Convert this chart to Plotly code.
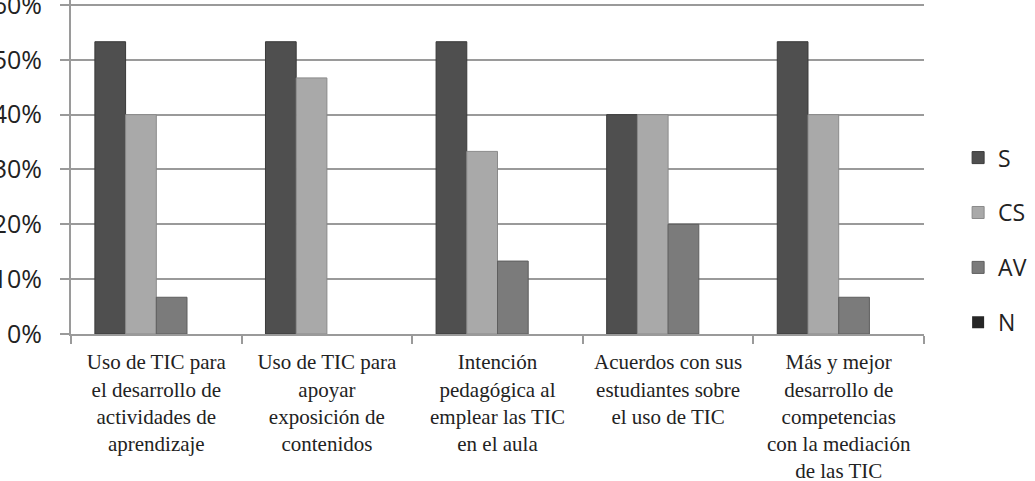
import plotly.graph_objects as go

categories = [
    "Uso de TIC para<br>el desarrollo de<br>actividades de<br>aprendizaje",
    "Uso de TIC para<br>apoyar<br>exposición de<br>contenidos",
    "Intención<br>pedagógica al<br>emplear las TIC<br>en el aula",
    "Acuerdos con sus<br>estudiantes sobre<br>el uso de TIC",
    "Más y mejor<br>desarrollo de<br>competencias<br>con la mediación<br>de las TIC",
]
S = [0.533, 0.533, 0.533, 0.40, 0.533]
CS = [0.40, 0.467, 0.333, 0.40, 0.40]
AV = [0.067, 0.0, 0.133, 0.20, 0.067]
N = [0.0, 0.0, 0.0, 0.0, 0.0]
y_ticks = [0, 0.1, 0.2, 0.3, 0.4, 0.5, 0.6]
y_ticktext = ["0%", "10%", "20%", "30%", "40%", "50%", "60%"]

series = [("S", S, "#4f4f4f", "#3a3a3a"),
          ("CS", CS, "#a9a9a9", "#8a8a8a"),
          ("AV", AV, "#7b7b7b", "#5e5e5e"),
          ("N", N, "#262626", "#111111")]

fig = go.Figure()
for name, vals, col, edge in series:
    fig.add_trace(go.Bar(x=categories, y=vals, name=name, legendgroup=name,
                         marker=dict(color=col,
                                     line=dict(color=edge,
                                               width=[1 if v > 0 else 0 for v in vals]))))

fig.update_layout(
    width=1035, height=481,
    margin=dict(l=71, r=111, t=0, b=147, autoexpand=False),
    paper_bgcolor="white", plot_bgcolor="white",
    barmode="group", bargap=0.28, bargroupgap=0,
    legend=dict(x=1.04, xanchor="left", y=0.281, yanchor="middle",
                font=dict(family="Open Sans", size=23, color="#222"),
                tracegroupgap=22, traceorder="grouped"),
    showlegend=True,
)
fig.update_yaxes(range=[0, 0.6091], tickmode="array", tickvals=y_ticks, ticktext=y_ticktext,
                 automargin=False, ticklabeloverflow="allow",
                 showgrid=True, gridcolor="#9a9a9a", gridwidth=2,
                 showline=True, linecolor="#9a9a9a", linewidth=2,
                 ticks="outside", ticklen=9, tickcolor="#9a9a9a", tickwidth=2,
                 ticklabelstandoff=13,
                 tickfont=dict(family="Open Sans", size=25, color="#222"),
                 zeroline=False)
fig.update_xaxes(showline=True, linecolor="#9a9a9a", linewidth=2, automargin=False,
                 ticks="outside", ticklen=8, tickcolor="#9a9a9a", tickwidth=2,
                 tickson="boundaries", tickangle=0, ticklabelstandoff=8,
                 ticklabeloverflow="allow",
                 tickfont=dict(family="Liberation Serif", size=21, color="#222"))

fig.write_html("out.html")
